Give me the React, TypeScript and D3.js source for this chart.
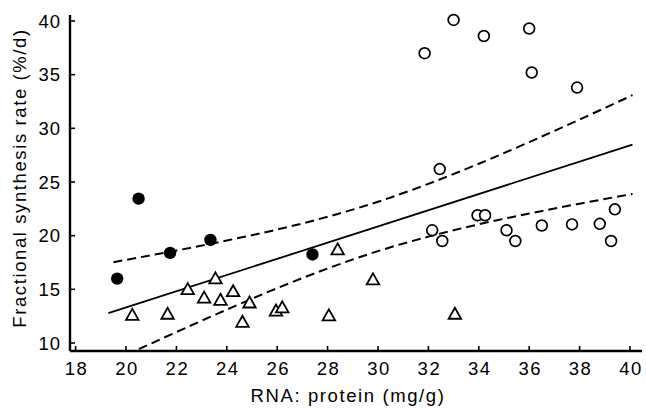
import React from "react";
import * as d3 from "d3";

const filledX = [19.65, 20.5, 21.75, 23.35, 27.4];
const filledY = [16.0, 23.45, 18.4, 19.6, 18.25];

const triX = [20.25, 21.65, 22.45, 23.1, 23.55, 23.75, 24.25, 24.62, 24.9, 25.95, 26.2, 28.05, 28.4, 29.8, 33.05];
const triY = [12.5, 12.6, 14.9, 14.1, 15.9, 13.9, 14.7, 11.85, 13.65, 12.9, 13.2, 12.45, 18.6, 15.8, 12.6];

const openX = [31.85, 33.0, 34.2, 36.0, 36.1, 37.9, 32.45, 32.15, 32.55, 33.95, 34.25, 35.1, 35.45, 36.5, 37.7, 38.8, 39.4, 39.25];
const openY = [37.0, 40.1, 38.6, 39.3, 35.2, 33.8, 26.2, 20.5, 19.5, 21.9, 21.9, 20.5, 19.5, 20.95, 21.05, 21.1, 22.45, 19.5];

const fitX = [19.3, 40.1];
const fitY = [12.78, 28.49];

const bandX = [19.5, 20.5, 22, 24, 26, 28, 30, 32, 34, 36, 38, 40.1];
const upperY = [17.53, 17.96, 18.62, 19.55, 20.57, 21.76, 23.16, 24.83, 26.7, 28.72, 30.82, 33.09];
const lowerY = [8.33, 9.42, 11.02, 13.11, 15.11, 16.94, 18.56, 19.91, 21.06, 22.06, 22.98, 23.89];

const xTicks = [18, 20, 22, 24, 26, 28, 30, 32, 34, 36, 38, 40];
const yTicks = [10, 15, 20, 25, 30, 35, 40];

const W = 646, H = 409;
const L = 70, R = 642, T = 15, B = 351;

export default function App() {
  const x = d3.scaleLinear().domain([20, 40]).range([126, 630]);
  const y = d3.scaleLinear().domain([10, 40]).range([343, 21]);
  const line = d3.line<[number, number]>().x(d => x(d[0])).y(d => y(d[1])).curve(d3.curveMonotoneX);
  const up = line(bandX.map((v, i) => [v, upperY[i]]) as [number, number][]) || "";
  const lo = line(bandX.map((v, i) => [v, lowerY[i]]) as [number, number][]) || "";
  const fit = line(fitX.map((v, i) => [v, fitY[i]]) as [number, number][]) || "";
  const font = "'Liberation Sans', Arial, sans-serif";
  const fs = 18.5;
  const tri = (cx: number, cy: number) => {
    const w = 12.5, h = 11;
    return `M${cx},${cy - (2 * h) / 3}L${cx + w / 2},${cy + h / 3}L${cx - w / 2},${cy + h / 3}Z`;
  };
  return (
    <svg width={W} height={H} style={{ position: "absolute", left: 0, top: 0, background: "#fff" }}>
      <defs>
        <clipPath id="plot">
          <rect x={L} y={T} width={R - L} height={B - T} />
        </clipPath>
      </defs>
      <g clipPath="url(#plot)">
        <path d={up} fill="none" stroke="#000" strokeWidth={2} strokeDasharray="9,5" />
        <path d={lo} fill="none" stroke="#000" strokeWidth={2} strokeDasharray="9,5" />
        <path d={fit} fill="none" stroke="#000" strokeWidth={1.8} />
      </g>
      {triX.map((v, i) => (
        <path key={"t" + i} d={tri(x(v), y(triY[i]))} fill="#fff" stroke="#000" strokeWidth={1.8} strokeLinejoin="miter" />
      ))}
      {openX.map((v, i) => (
        <circle key={"o" + i} cx={x(v)} cy={y(openY[i])} r={5.4} fill="#fff" stroke="#000" strokeWidth={1.7} />
      ))}
      {filledX.map((v, i) => (
        <circle key={"f" + i} cx={x(v)} cy={y(filledY[i])} r={6.2} fill="#000" />
      ))}
      <line x1={L} y1={T} x2={L} y2={B} stroke="#000" strokeWidth={2.4} />
      <line x1={L} y1={B} x2={R} y2={B} stroke="#000" strokeWidth={2.4} />
      {yTicks.map(t => (
        <g key={"yt" + t}>
          <line x1={L} x2={L + 5} y1={y(t)} y2={y(t)} stroke="#000" strokeWidth={1.6} />
          <text x={61} y={y(t)} dy="0.36em" textAnchor="end" fontFamily={font} fontSize={fs} letterSpacing={1}>{t}</text>
        </g>
      ))}
      {xTicks.map(t => (
        <g key={"xt" + t}>
          <line x1={x(t)} x2={x(t)} y1={B} y2={B - 5} stroke="#000" strokeWidth={1.6} />
          <text x={x(t) + 1} y={375} textAnchor="middle" fontFamily={font} fontSize={fs} letterSpacing={1.5}>{t}</text>
        </g>
      ))}
      <text x={348} y={401.5} textAnchor="middle" fontFamily={font} fontSize={fs} letterSpacing={1.6}>RNA: protein (mg/g)</text>
      <text transform={`translate(26,178) rotate(-90)`} textAnchor="middle" fontFamily={font} fontSize={fs} letterSpacing={1.6}>
        Fractional synthesis rate (%/d)
      </text>
    </svg>
  );
}
